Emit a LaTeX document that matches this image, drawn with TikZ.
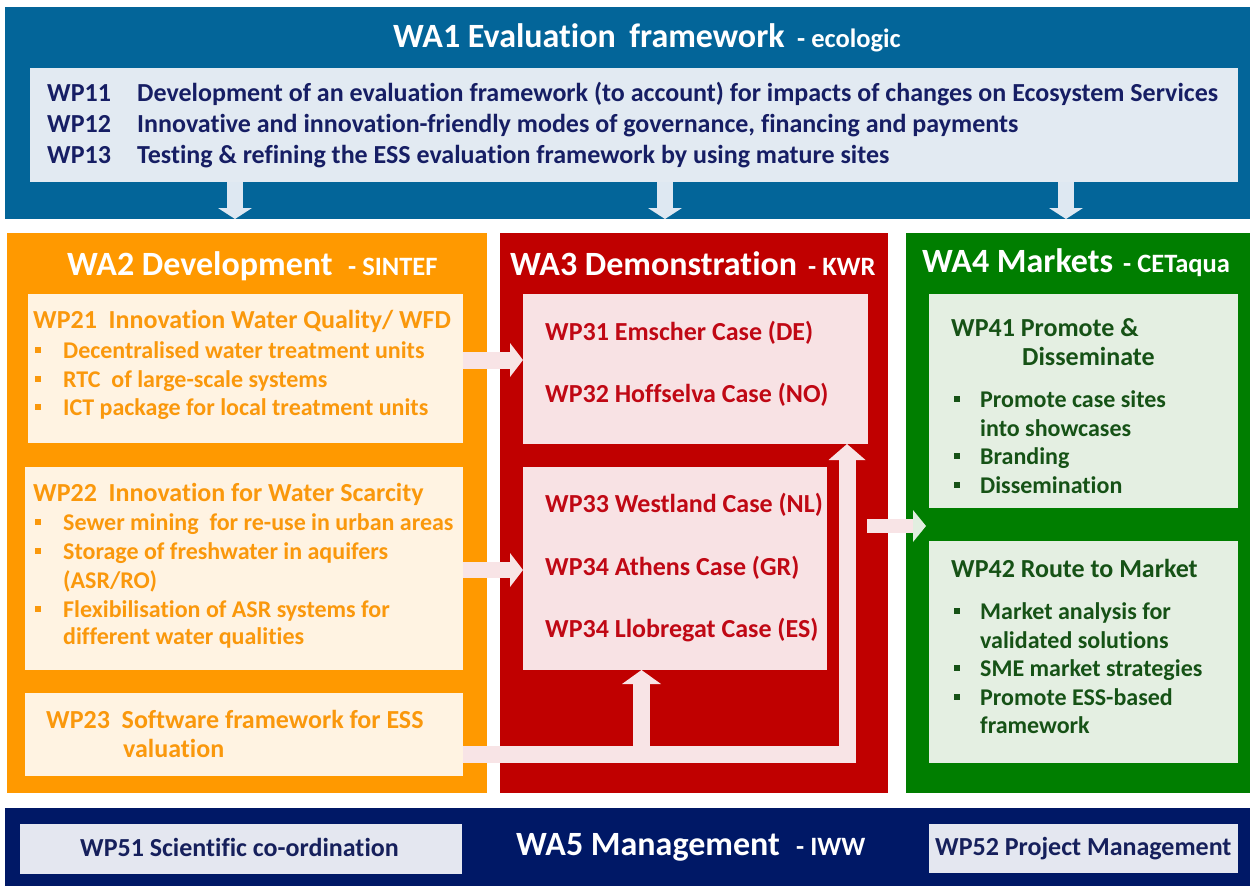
\documentclass[tikz,border=0pt]{standalone}
\usepackage{fontspec}
\setmainfont{Carlito}[Ligatures=NoCommon]
\usetikzlibrary{arrows.meta,calc}
\definecolor{waone}{RGB}{3,101,153}
\definecolor{wpone}{RGB}{226,234,242}
\definecolor{wponetext}{RGB}{22,30,100}
\definecolor{watwo}{RGB}{255,153,0}
\definecolor{wptwo}{RGB}{255,243,226}
\definecolor{wptwotext}{RGB}{250,152,12}
\definecolor{wathree}{RGB}{192,0,0}
\definecolor{wpthree}{RGB}{248,226,228}
\definecolor{wpthreetext}{RGB}{192,8,20}
\definecolor{wafour}{RGB}{0,126,0}
\definecolor{wpfour}{RGB}{228,239,226}
\definecolor{wpfourtext}{RGB}{22,82,22}
\definecolor{wafive}{RGB}{0,24,102}
\definecolor{wpfive}{RGB}{228,231,240}
\definecolor{wpfivetext}{RGB}{22,32,92}
\definecolor{arrowblue}{RGB}{222,232,242}
\definecolor{arrowpink}{RGB}{248,228,230}
\definecolor{arrowgreen}{RGB}{226,238,224}
\begin{document}
\begin{tikzpicture}[x=1pt,y=-1pt,
  area/.style={rectangle, draw=none, fill=#1, anchor=north west, inner sep=0pt, outer sep=0pt},
  ttl/.style={anchor=base west, inner sep=0pt, text=white, font=\bfseries\fontsize{34}{34}\selectfont},
  sfx/.style={anchor=base west, inner sep=0pt, text=white, font=\bfseries\fontsize{26.5}{26.5}\selectfont},
  wp/.style={anchor=base west, inner sep=0pt, text=#1, font=\bfseries\fontsize{26}{26}\selectfont},
  bul/.style={anchor=base west, inner sep=0pt, text=#1, font=\bfseries\fontsize{24}{24}\selectfont},
  flow/.style={draw=#1, line width=17pt, line cap=butt, line join=miter},
  tip/.style n args={3}{-{Triangle[width=#1,length=#2,line width=0pt,fill=#3]}}
]
\useasboundingbox (0,0) rectangle (1250,886);
\fill[white] (0,0) rectangle (1250,886);

% ---------- areas ----------
\node[area=waone, minimum width=1245pt, minimum height=212pt] (wa1) at (5,7) {};
\node[area=wpone, minimum width=1208pt, minimum height=114pt] (wp1) at (30,68) {};
\node[area=watwo, minimum width=480pt, minimum height=560pt] (wa2) at (7,233) {};
\node[area=wathree, minimum width=388pt, minimum height=560pt] (wa3) at (500,233) {};
\node[area=wafour, minimum width=344pt, minimum height=560pt] (wa4) at (906,233) {};
\node[area=wafive, minimum width=1245pt, minimum height=78pt] (wa5) at (5,808) {};

\node[area=wptwo, minimum width=435pt, minimum height=149pt] (wp21) at (28,294) {};
\node[area=wptwo, minimum width=438pt, minimum height=203pt] (wp22) at (25,467) {};
\node[area=wptwo, minimum width=438pt, minimum height=83pt] (wp23) at (25,693) {};
\node[area=wpthree, minimum width=345pt, minimum height=150pt] (wp31) at (523,294) {};
\node[area=wpthree, minimum width=304pt, minimum height=203pt] (wp33) at (523,467) {};
\node[area=wpfour, minimum width=309pt, minimum height=214pt] (wp41) at (929,294) {};
\node[area=wpfour, minimum width=309pt, minimum height=222pt] (wp42) at (929,541) {};
\node[area=wpfive, minimum width=442pt, minimum height=50pt] (wp51) at (20,824) {};
\node[area=wpfive, minimum width=309pt, minimum height=49pt] (wp52) at (929,824) {};

% ---------- arrows ----------
\foreach \ax/\bx in {205/230, 635/660, 1036/1061}{
  \draw[draw=arrowblue, line width=16pt, line cap=butt, tip={34pt}{11pt}{arrowblue}]
    ($(wp1.south west)+(\ax,0)$) -- ($(wa1.south west)+(\bx,0)$);
}
\draw[flow=arrowpink, tip={34pt}{13pt}{arrowpink}]
  ([yshift=8.5pt]wp21.east) -- ([yshift=8.5pt]wp21.east -| wp31.west);
\draw[flow=arrowpink, line width=16pt, tip={34pt}{13pt}{arrowpink}]
  ([yshift=-1.5pt]wp22.east) -- ([yshift=-1.5pt]wp22.east -| wp33.west);
\draw[flow=arrowpink, line width=17pt, tip={37pt}{16pt}{arrowpink}]
  ([yshift=-19.5pt]wp23.east) -| ([xshift=-21pt]wp31.south east);
\coordinate (j) at (641.5,753.5);
\draw[flow=arrowpink, line width=17pt, tip={39pt}{14pt}{arrowpink}]
  (j) -- (j |- wp33.south);
\draw[flow=arrowpink, line width=14pt, tip={32pt}{13pt}{arrowgreen}]
  ([xshift=-21pt,yshift=-13pt]wa3.east) -- ([xshift=20pt,yshift=-13pt]wa4.west);

% ---------- WA1 ----------
\node[ttl] (t1) at (393,47) {WA1 Evaluation\hspace{0.4em}framework};
\node[sfx] (t1s) at (797,47) {- ecologic};
\node[wp=wponetext] (p11) at (47,101) {WP11};
\node[wp=wponetext] (d11) at (137,101) {Development of an evaluation framework (to account) for impacts of changes on Ecosystem Services};
\node[wp=wponetext] (p12) at (47,132) {WP12};
\node[wp=wponetext] (d12) at (137,132) {Innovative and innovation-friendly modes of governance, financing and payments};
\node[wp=wponetext] (p13) at (47,163) {WP13};
\node[wp=wponetext] (d13) at (137,163) {Testing \& refining the ESS evaluation framework by using mature sites};

% ---------- WA2 ----------
\node[ttl] (t2) at (67,275) {WA2 Development};
\node[sfx] (t2s) at (348,275) {- SINTEF};
\node[wp=wptwotext] (h21) at (33,328) {WP21\ \ Innovation Water Quality/ WFD};
\node[bul=wptwotext] (b211) at (63,358) {Decentralised water treatment units};
\node[bul=wptwotext] (b212) at (63,387) {RTC\ \ of large-scale systems};
\node[bul=wptwotext] (b213) at (63,415) {ICT package for local treatment units};
\foreach \yy in {358,387,415}{ \fill[wptwotext] (35,\yy-11) rectangle (41,\yy-5); }
\node[wp=wptwotext] (h22) at (33,501) {WP22\ \ Innovation for Water Scarcity};
\node[bul=wptwotext] (b221) at (63,530) {Sewer mining\ \ for re-use in urban areas};
\node[bul=wptwotext] (b222) at (63,559) {Storage of freshwater in aquifers};
\node[bul=wptwotext] (b222b) at (63,588) {(ASR/RO)};
\node[bul=wptwotext] (b223) at (63,617) {Flexibilisation of ASR systems for};
\node[bul=wptwotext] (b223b) at (63,644) {different water qualities};
\foreach \yy in {530,559,617}{ \fill[wptwotext] (35,\yy-11) rectangle (41,\yy-5); }
\node[wp=wptwotext] (h23) at (46,728) {WP23\ \ Software framework for ESS};
\node[wp=wptwotext] (h23b) at (123,757) {valuation};

% ---------- WA3 ----------
\node[ttl] (t3) at (510,275) {WA3 Demonstration};
\node[sfx] (t3s) at (808,275) {- KWR};
\node[wp=wpthreetext] (c31) at (545,340) {WP31 Emscher Case (DE)};
\node[wp=wpthreetext] (c32) at (545,402) {WP32 Hoffselva Case (NO)};
\node[wp=wpthreetext] (c33) at (545,512) {WP33 Westland Case (NL)};
\node[wp=wpthreetext] (c34) at (545,575) {WP34 Athens Case (GR)};
\node[wp=wpthreetext] (c35) at (545,637) {WP34 Llobregat Case (ES)};

% ---------- WA4 ----------
\node[ttl] (t4) at (922,272) {WA4 Markets};
\node[sfx] (t4s) at (1123,272) {- CETaqua};
\node[wp=wpfourtext] (h41) at (951,336) {WP41 Promote \&};
\node[wp=wpfourtext] (h41b) at (1022,365) {Disseminate};
\node[bul=wpfourtext] (b411) at (980,407) {Promote case sites};
\node[bul=wpfourtext] (b411b) at (980,436) {into showcases};
\node[bul=wpfourtext] (b412) at (980,464) {Branding};
\node[bul=wpfourtext] (b413) at (980,493) {Dissemination};
\foreach \yy in {407,464,493}{ \fill[wpfourtext] (954,\yy-11) rectangle (960,\yy-5); }
\node[wp=wpfourtext] (h42) at (951,577) {WP42 Route to Market};
\node[bul=wpfourtext] (b421) at (980,619) {Market analysis for};
\node[bul=wpfourtext] (b421b) at (980,648) {validated solutions};
\node[bul=wpfourtext] (b422) at (980,676) {SME market strategies};
\node[bul=wpfourtext] (b423) at (980,705) {Promote ESS-based};
\node[bul=wpfourtext] (b423b) at (980,733) {framework};
\foreach \yy in {619,676,705}{ \fill[wpfourtext] (954,\yy-11) rectangle (960,\yy-5); }

% ---------- WA5 ----------
\node[ttl] (t5) at (516,855) {WA5 Management};
\node[sfx] (t5s) at (796,855) {- IWW};
\node[wp=wpfivetext] (m51) at (80,856) {WP51 Scientific co-ordination};
\node[wp=wpfivetext] (m52) at (935,855) {WP52 Project Management};
\end{tikzpicture}
\end{document}
